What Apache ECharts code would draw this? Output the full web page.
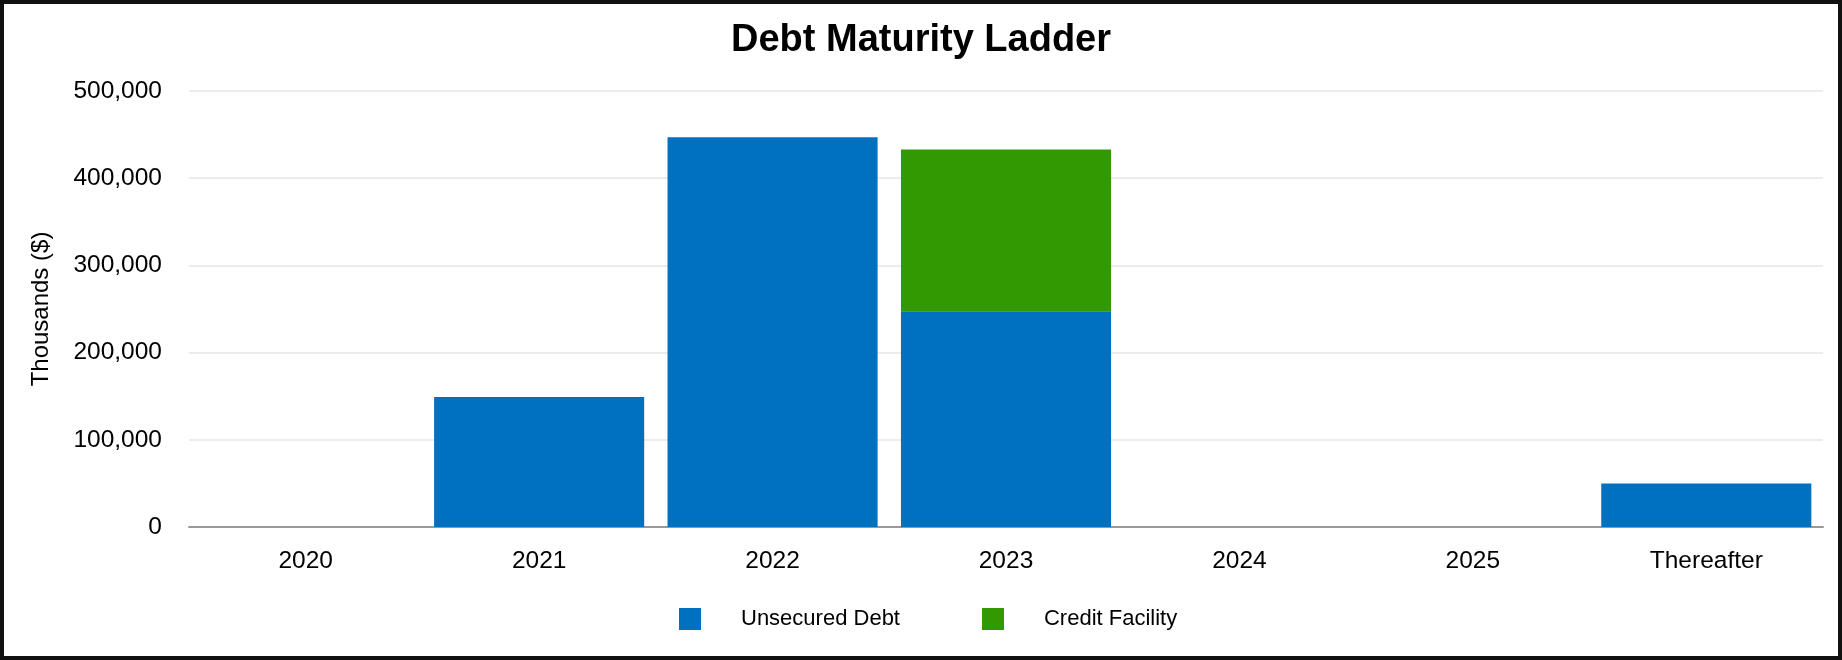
<!DOCTYPE html>
<html>
<head>
<meta charset="utf-8">
<script src="https://cdn.jsdelivr.net/npm/echarts@6/dist/echarts.min.js"></script>
<style>
html,body{margin:0;padding:0;background:#fff;}
#chart{width:1842px;height:660px;}
</style>
</head>
<body>
<div id="chart"></div>
<script>
const categories = ['2020', '2021', '2022', '2023', '2024', '2025', 'Thereafter'];
const unsecuredDebt = [0, 149000, 447000, 247500, 0, 0, 50000];
const creditFacility = [0, 0, 0, 185500, 0, 0, 0];
const seriesNames = ['Unsecured Debt', 'Credit Facility'];
const titleText = 'Debt Maturity Ladder';
const yAxisName = 'Thousands ($)';

const FONT = '"Liberation Sans", Arial, sans-serif';
const chart = echarts.init(document.getElementById('chart'), null, {renderer: 'canvas'});
chart.setOption({
  animation: false,
  backgroundColor: '#ffffff',
  textStyle: {fontFamily: FONT},
  title: {
    text: titleText,
    left: 'center',
    top: 17,
    textStyle: {fontFamily: FONT, fontSize: 38, fontWeight: 'bold', color: '#000'}
  },
  legend: {
    left: 674,
    top: 603,
    itemWidth: 22,
    itemHeight: 22,
    itemGap: 82,
    icon: 'rect',
    textStyle: {fontFamily: FONT, fontSize: 22, color: '#000', padding: [0, 0, 0, 35]},
    data: seriesNames
  },
  grid: {left: 189, right: 19, top: 91, bottom: 133, containLabel: false},
  xAxis: {
    type: 'category',
    data: categories,
    axisLine: {lineStyle: {color: '#999', width: 2}},
    axisTick: {show: false},
    axisLabel: {fontFamily: FONT, fontSize: 24.5, color: '#000', margin: 22}
  },
  yAxis: {
    type: 'value',
    min: 0,
    max: 500000,
    interval: 100000,
    name: yAxisName,
    nameLocation: 'middle',
    nameGap: 136,
    nameTextStyle: {fontFamily: FONT, fontSize: 24, color: '#000'},
    axisLine: {show: false},
    axisTick: {show: false},
    splitLine: {lineStyle: {color: '#e6e6e6', width: 1.5}},
    axisLabel: {
      fontFamily: FONT, fontSize: 24.5, color: '#000', margin: 27,
      formatter: v => v.toLocaleString('en-US')
    }
  },
  series: [
    {name: seriesNames[0], type: 'bar', stack: 'total', data: unsecuredDebt,
     itemStyle: {color: '#0070c0'}, barCategoryGap: '10%'},
    {name: seriesNames[1], type: 'bar', stack: 'total', data: creditFacility,
     itemStyle: {color: '#339900'}, barCategoryGap: '10%'}
  ],
  graphic: [{
    type: 'rect', silent: true, z: 100,
    shape: {x: 2, y: 2, width: 1838, height: 656},
    style: {fill: 'none', stroke: '#111', lineWidth: 4}
  }]
});
</script>
</body>
</html>
